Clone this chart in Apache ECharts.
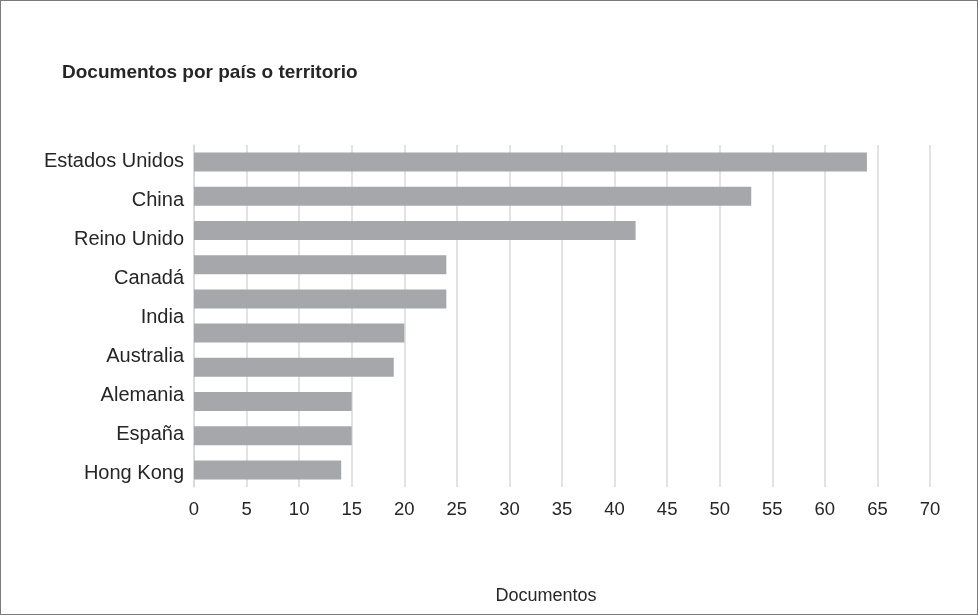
<!DOCTYPE html>
<html>
<head>
<meta charset="utf-8">
<script src="https://cdn.jsdelivr.net/npm/echarts@6/dist/echarts.min.js"></script>
<style>
  html, body { margin: 0; padding: 0; background: #ffffff; }
  #chart { width: 978px; height: 615px; box-sizing: border-box; border: 1px solid #7a7a7a; }
</style>
</head>
<body>
<div id="chart"></div>
<script>
const chartTitle = 'Documentos por país o territorio';
const axisTitle = 'Documentos';
const countryLabels = ['Estados Unidos', 'China', 'Reino Unido', 'Canadá', 'India', 'Australia', 'Alemania', 'España', 'Hong Kong'];
const barValues = [64, 53, 42, 24, 24, 20, 19, 15, 15, 14];
const barSlots = barValues.map((v, i) => String(i + 1));
const xMin = 0, xMax = 70, xStep = 5;

const FONT = '"Liberation Sans", Arial, sans-serif';
const chart = echarts.init(document.getElementById('chart'), null, { renderer: 'canvas' });
chart.setOption({
  backgroundColor: '#ffffff',
  animation: false,
  title: {
    text: chartTitle,
    left: 56,
    top: 57,
    textStyle: { fontFamily: FONT, fontSize: 19, fontWeight: 'bold', color: '#262626' }
  },
  grid: [
    { left: 193, right: 47, top: 144, height: 342, containLabel: false },
    { left: 193, right: 47, top: 141, height: 351, containLabel: false }
  ],
  xAxis: [
    {
      type: 'value', gridIndex: 0, min: xMin, max: xMax, interval: xStep,
      name: axisTitle, nameLocation: 'middle', nameGap: 100,
      nameTextStyle: { fontFamily: FONT, fontSize: 18, color: '#262626', padding: [0, 32, 0, 0] },
      axisLine: { show: false }, axisTick: { show: false },
      axisLabel: { fontFamily: FONT, fontSize: 18.5, color: '#262626', margin: 13 },
      splitLine: { show: true, lineStyle: { color: '#d9d9d9', width: 1.5 } }
    },
    { type: 'value', gridIndex: 1, min: 0, max: 1, show: false }
  ],
  yAxis: [
    {
      type: 'category', gridIndex: 0, data: barSlots, inverse: true,
      axisLine: { show: true, lineStyle: { color: '#d9d9d9', width: 1.5 } },
      axisTick: { show: false }, axisLabel: { show: false }, splitLine: { show: false }
    },
    {
      type: 'category', gridIndex: 1, data: countryLabels, inverse: true,
      axisLine: { show: false }, axisTick: { show: false }, splitLine: { show: false },
      axisLabel: { fontFamily: FONT, fontSize: 20, color: '#262626', margin: 10 }
    }
  ],
  series: [{
    type: 'bar', xAxisIndex: 0, yAxisIndex: 0,
    data: barValues, barWidth: 19,
    itemStyle: { color: '#a6a7ab' }
  }]
});
</script>
</body>
</html>
